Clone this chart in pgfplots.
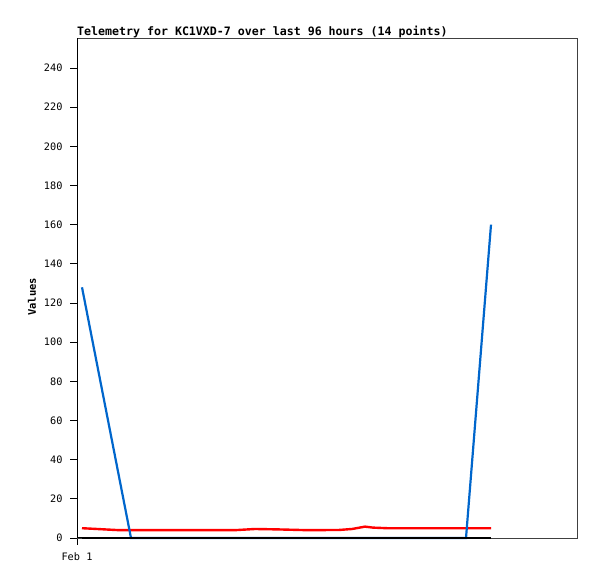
\documentclass[border=0pt]{standalone}
\usepackage{fontspec}
\setmainfont{DejaVu Sans Mono}
\usepackage{pgfplots}
\pgfplotsset{compat=1.18}
\definecolor{tblue}{RGB}{0,102,204}
\begin{document}
\begin{tikzpicture}[x=1bp,y=1bp]
\useasboundingbox (0,0) rectangle (597,579);
\begin{axis}[
  at={(77bp,41bp)}, anchor=south west,
  scale only axis, width=500bp, height=500bp,
  xmin=0, xmax=500, ymin=0, ymax=255.3,
  axis line style={black!75, line width=0.8pt},
  ytick={0,20,...,240},
  xtick={0}, xticklabels={Feb 1},
  xtick pos=bottom, ytick pos=left,
  tick style={black, line width=0.8pt},
  tick align=outside,
  major tick length=7bp,
  x tick label style={font=\fontsize{10.3}{12}\selectfont, yshift=-4bp},
  y tick label style={font=\fontsize{10.3}{12}\selectfont, xshift=-4bp},
  /pgf/number format/assume math mode=true,
  title={\textbf{Telemetry for KC1VXD-7 over last 96 hours (14 points)}},
  title style={font=\fontsize{11.65}{13}\selectfont, at={(axis description cs:0,1)}, anchor=south west, inner xsep=0pt, yshift=-9bp},
  clip=false,
]
\addplot[red, line width=2.4bp] coordinates {
(5,5) (20,4.6) (42,4) (100,4) (158,4) (178,4.6) (200,4.4) (230,4) (262,4.1) (275,4.6) (288,5.8) (296,5.3) (310,5) (414,5)};
\addplot[tblue, line width=2.2bp] coordinates {(5,128) (54,0) (389,0) (414,160)};
\addplot[black, line width=2.4bp] coordinates {(5,0) (414,0)};
\draw[black, line width=1bp] (axis cs:0,0) -- (axis cs:0,255.3);
\draw[black, line width=1bp] (axis cs:0,0) -- (axis cs:5,0);
\end{axis}
\node[rotate=90, font=\fontsize{10.5}{12}\selectfont\bfseries] at (32,282) {Values};
\end{tikzpicture}
\end{document}
